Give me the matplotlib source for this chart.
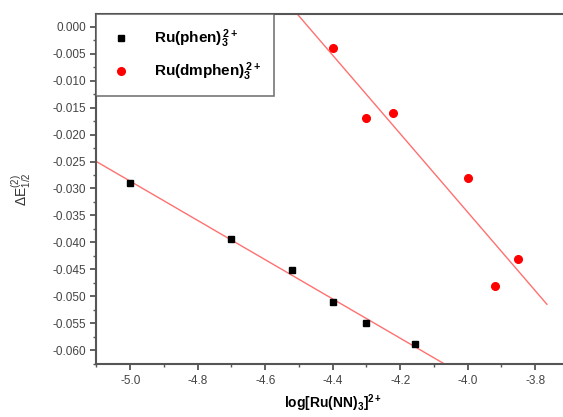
import numpy as np
import matplotlib
matplotlib.use("Agg")
import matplotlib.pyplot as plt
from matplotlib.ticker import MultipleLocator, FuncFormatter, FormatStrFormatter

plt.rcParams['font.family'] = ['Liberation Sans', 'DejaVu Sans']
plt.rcParams['mathtext.fontset'] = 'custom'
plt.rcParams['mathtext.rm'] = 'Liberation Sans'
plt.rcParams['mathtext.bf'] = 'Liberation Sans:bold'
plt.rcParams['mathtext.it'] = 'Liberation Sans:italic'

# Data
phen_x = [-5.0, -4.70, -4.52, -4.40, -4.30, -4.156]
phen_y = [-0.0289, -0.0394, -0.0451, -0.0510, -0.0550, -0.0589]
dmphen_x = [-4.40, -4.30, -4.22, -4.00, -3.92, -3.85]
dmphen_y = [-0.0040, -0.0170, -0.0160, -0.0280, -0.0480, -0.0431]
labels = [r'Ru(phen)$_\mathbf{3}^{\mathbf{\,2+}}$', r'Ru(dmphen)$_\mathbf{3}^{\mathbf{\,2+}}$']

xlim = (-5.1, -3.7)
ylim = (-0.0626, 0.0023)
phen_fit_range = (-5.1, -3.7)
dmphen_fit_range = (-4.6, -3.765)

fig = plt.figure(figsize=(5.63, 4.17), dpi=100)
ax = fig.add_axes([0.1714, 0.1264, 0.839, 0.8393])

line_col = '#ff7070'
for xs, ys, rng in [(phen_x, phen_y, phen_fit_range), (dmphen_x, dmphen_y, dmphen_fit_range)]:
    k, b = np.polyfit(xs, ys, 1)
    xx = np.array(rng)
    ax.plot(xx, k * xx + b, color=line_col, lw=1.0, zorder=1)

ax.plot(phen_x, phen_y, 's', color='black', ms=4.5, ls='none', label=labels[0], zorder=3)
ax.plot(dmphen_x, dmphen_y, 'o', color='red', ms=5.5, ls='none', label=labels[1], zorder=3)

ax.set_xlim(*xlim)
ax.set_ylim(*ylim)
ax.xaxis.set_major_locator(MultipleLocator(0.2))
ax.xaxis.set_minor_locator(MultipleLocator(0.1))
ax.set_yticks(np.arange(-0.060, 0.0001, 0.005))
ax.yaxis.set_minor_locator(MultipleLocator(0.0025))
ax.yaxis.set_major_formatter(FuncFormatter(lambda v, p: f'{round(v, 3) + 0.0:.3f}'))
ax.xaxis.set_major_formatter(FormatStrFormatter('%.1f'))

spine_col = '#555555'
for s in ['left', 'bottom', 'top']:
    ax.spines[s].set_linewidth(1.5)
    ax.spines[s].set_color(spine_col)
ax.spines['right'].set_visible(False)
ax.tick_params(which='both', direction='out', colors=spine_col, labelcolor='#444444',
               labelsize=8.5, top=False, right=False)
ax.tick_params(which='major', length=4, width=1.3)
ax.tick_params(which='minor', length=2.5, width=1.0)

ax.set_xlabel(r'log[Ru(NN)$_\mathbf{3}$]$^{\mathbf{2+}}$', fontsize=10, fontweight='bold', labelpad=4)
ax.set_ylabel(r'$\Delta$E$_{1/2}^{(2)}$', fontsize=10, labelpad=14, color='#333333')

leg = ax.legend(loc='upper left', frameon=True, fancybox=False, borderaxespad=0,
                prop={'weight': 'bold', 'size': 11}, handletextpad=1.4,
                borderpad=0.85, labelspacing=0.7, handlelength=1.5)
leg.get_frame().set_edgecolor('#555555')
leg.get_frame().set_linewidth(1.2)

fig.savefig('out.png', dpi=100)
